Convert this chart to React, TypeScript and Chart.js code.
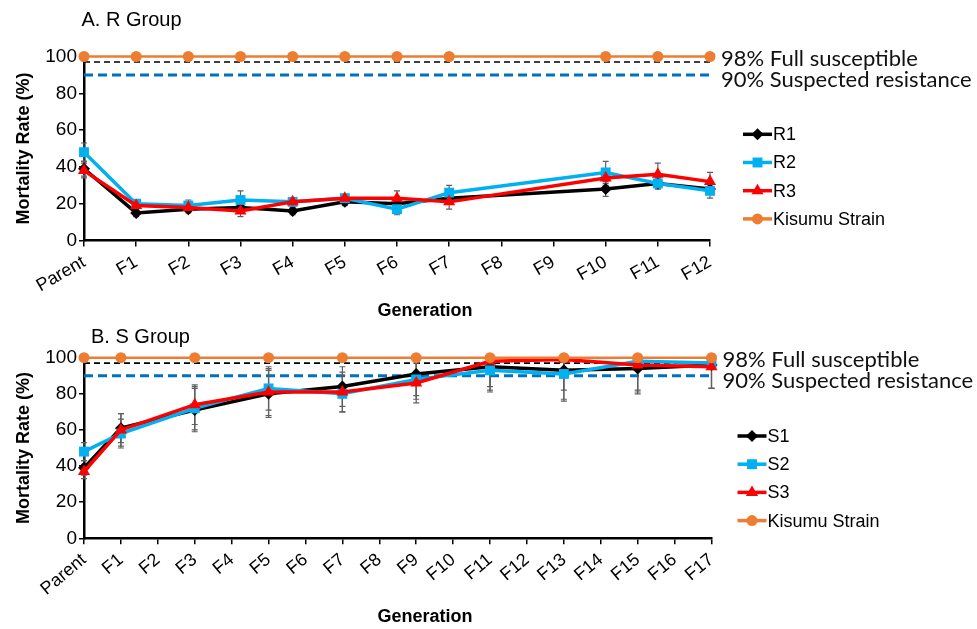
import React, { useEffect, useRef } from 'react';
import { Chart, registerables } from 'chart.js';
Chart.register(...registerables);

// ---------- data ----------
const rCategories = ['Parent', 'F1', 'F2', 'F3', 'F4', 'F5', 'F6', 'F7', 'F8', 'F9', 'F10', 'F11', 'F12'];
const r1Values = [39, 15, 17, 18, 16, 21, 20, 23, null, null, 28, 31, 28];
const r2Values = [48, 20, 19, 22, 21, 23, 17, 26, null, null, 37, 31, 27];
const r3Values = [38, 19, 18, 16, 21, 23, 23, 21, null, null, 34, 36, 32];
const kisumuR = [100, 100, 100, 100, 100, 100, 100, 100, null, null, 100, 100, 100];
const r1Errors = [4, 2, 2, 3, 2, 2, 3, 3, null, null, 4, 3, 3];
const r2Errors = [5, 2, 3, 5, 2, 2, 3, 4, null, null, 6, 3, 4];
const r3Errors = [4, 3, 2, 3, 2, 2, 4, 4, null, null, 4, 6, 5];

const sCategories = ['Parent', 'F1', 'F2', 'F3', 'F4', 'F5', 'F6', 'F7', 'F8', 'F9', 'F10', 'F11', 'F12', 'F13', 'F14', 'F15', 'F16', 'F17'];
const s1Values = [39, 61, null, 71, null, 80, null, 84, null, 91, null, 95, null, 93, null, 94, null, 96];
const s2Values = [48, 58, null, 72, null, 83, null, 80, null, 88, null, 93, null, 91, null, 98, null, 97];
const s3Values = [37, 60, null, 74, null, 81, null, 81, null, 86, null, 98, null, 99, null, 96, null, 95];
const kisumuS = [100, 100, null, 100, null, 100, null, 100, null, 100, null, 100, null, 100, null, 100, null, 100];
const s1Errors = [4, 8, null, 12, null, 13, null, 11, null, 12, null, 13, null, 16, null, 14, null, 13];
const s2Errors = [5, 8, null, 12, null, 12, null, 10, null, 11, null, 12, null, 15, null, 16, null, 14];
const s3Errors = [4, 9, null, 11, null, 13, null, 11, null, 11, null, 14, null, 17, null, 15, null, 12];

const yTicks = [0, 20, 40, 60, 80, 100];
const fullSusceptible = 97;
const suspectedResistance = 90;
const thresholdLabels = ['98% Full susceptible', '90% Suspected resistance'];
const yTitle = 'Mortality Rate (%)';
const xTitle = 'Generation';

// ---------- styles ----------
const FONT = "'Liberation Sans', Arial, sans-serif";
const LABEL_FONT = "Lato, 'Open Sans', sans-serif";
const BLACK = '#000000';
const LIGHTBLUE = '#00B0F0';
const RED = '#FF0000';
const ORANGE = '#ED7D31';
const DASHBLUE = '#0070C0';
const ERRGRAY = '#5f5f5f';

type Series = {
  label: string;
  data: (number | null)[];
  err?: (number | null)[];
  color: string;
  style: string;
  radius: number;
  width: number;
  order: number;
};

function drawMarker(ctx: CanvasRenderingContext2D, style: string, x: number, y: number, r: number, color: string) {
  ctx.save();
  ctx.fillStyle = color;
  ctx.beginPath();
  if (style === 'rectRot') {
    ctx.moveTo(x, y - r);
    ctx.lineTo(x + r, y);
    ctx.lineTo(x, y + r);
    ctx.lineTo(x - r, y);
    ctx.closePath();
  } else if (style === 'rect') {
    const s = r * Math.SQRT1_2;
    ctx.rect(x - s, y - s, 2 * s, 2 * s);
  } else if (style === 'triangle') {
    ctx.moveTo(x, y - r);
    ctx.lineTo(x + 0.866 * r, y + 0.5 * r);
    ctx.lineTo(x - 0.866 * r, y + 0.5 * r);
    ctx.closePath();
  } else {
    ctx.arc(x, y, r, 0, Math.PI * 2);
  }
  ctx.fill();
  ctx.restore();
}

type PanelProps = {
  top: number;
  height: number;
  categories: string[];
  series: Series[];
  title: string;
  titleX: number;
  titleBaseline: number;
  areaTop: number;
  areaBottom: number;
  areaRight: number;
  xTitleX: number;
  xTitleY: number;
  legendX: number;
  legendY: number;
  rotation: number;
};

function Panel(p: PanelProps) {
  const ref = useRef<HTMLCanvasElement>(null);
  useEffect(() => {
    const canvas = ref.current!;
    const W = 977;
    const datasets = p.series.map((s) => ({
      label: s.label,
      data: s.data,
      borderColor: s.color,
      backgroundColor: s.color,
      borderWidth: s.width,
      pointStyle: s.style as any,
      pointRadius: s.radius,
      pointBorderWidth: 0,
      pointBackgroundColor: s.color,
      pointBorderColor: s.color,
      spanGaps: true,
      clip: false as any,
      order: s.order,
      tension: 0,
    }));

    const overlay = {
      id: 'overlay',
      beforeDatasetsDraw(chart: any) {
        const ctx: CanvasRenderingContext2D = chart.ctx;
        const y = chart.scales.y;
        const area = chart.chartArea;
        // threshold lines
        ctx.save();
        const yFull = y.getPixelForValue(fullSusceptible);
        const yRes = y.getPixelForValue(suspectedResistance);
        ctx.strokeStyle = BLACK;
        ctx.lineWidth = 1.6;
        ctx.setLineDash([6, 4]);
        ctx.beginPath();
        ctx.moveTo(area.left, yFull);
        ctx.lineTo(area.right + 2, yFull);
        ctx.stroke();
        ctx.strokeStyle = DASHBLUE;
        ctx.lineWidth = 3;
        ctx.setLineDash([9, 5]);
        ctx.beginPath();
        ctx.moveTo(area.left, yRes);
        ctx.lineTo(area.right + 2, yRes);
        ctx.stroke();
        ctx.restore();

        // error bars
        ctx.save();
        ctx.beginPath();
        ctx.rect(0, area.top, chart.width, area.bottom - area.top + 1);
        ctx.clip();
        ctx.strokeStyle = ERRGRAY;
        ctx.lineWidth = 1.2;
        p.series.forEach((s, i) => {
          if (!s.err) return;
          const meta = chart.getDatasetMeta(i);
          s.data.forEach((v, j) => {
            const e = s.err![j];
            if (v == null || e == null) return;
            const x = meta.data[j].x;
            const y1 = y.getPixelForValue(v + e);
            const y2 = y.getPixelForValue(v - e);
            ctx.beginPath();
            ctx.moveTo(x, y1);
            ctx.lineTo(x, y2);
            ctx.moveTo(x - 3, y1);
            ctx.lineTo(x + 3, y1);
            ctx.moveTo(x - 3, y2);
            ctx.lineTo(x + 3, y2);
            ctx.stroke();
          });
        });
        ctx.restore();
      },
      afterDraw(chart: any) {
        const ctx: CanvasRenderingContext2D = chart.ctx;
        const y = chart.scales.y;
        const area = chart.chartArea;
        ctx.save();
        // threshold labels
        ctx.fillStyle = '#111';
        ctx.font = `22px ${LABEL_FONT}`;
        ctx.textAlign = 'left';
        ctx.textBaseline = 'alphabetic';
        ctx.fillText(thresholdLabels[0], area.right + 11, y.getPixelForValue(fullSusceptible) + 4);
        ctx.fillText(thresholdLabels[1], area.right + 11, y.getPixelForValue(suspectedResistance) + 12);
        // panel title
        ctx.font = `20px ${FONT}`;
        ctx.fillStyle = '#000';
        ctx.fillText(p.title, p.titleX, p.titleBaseline);
        // x title
        ctx.font = `bold 18px ${FONT}`;
        ctx.textAlign = 'center';
        ctx.textBaseline = 'middle';
        ctx.fillText(xTitle, p.xTitleX, p.xTitleY);
        // legend
        ctx.font = `18px ${FONT}`;
        ctx.textAlign = 'left';
        ctx.textBaseline = 'middle';
        p.series.forEach((s, i) => {
          const ly = p.legendY + i * 28.2;
          const lx = p.legendX;
          ctx.strokeStyle = s.color;
          ctx.lineWidth = Math.max(3.5, s.width);
          ctx.setLineDash([]);
          ctx.beginPath();
          ctx.moveTo(lx, ly);
          ctx.lineTo(lx + 29, ly);
          ctx.stroke();
          drawMarker(ctx, s.style, lx + 14.5, ly, s.radius, s.color);
          ctx.fillStyle = '#000';
          ctx.fillText(s.label, lx + 30, ly + 1);
        });
        ctx.restore();
      },
    };

    const chart = new Chart(canvas, {
      type: 'line',
      data: { labels: p.categories, datasets: datasets as any },
      options: {
        responsive: false,
        animation: false,
        events: [],
        layout: { padding: { left: 0, top: p.areaTop, right: W - p.areaRight, bottom: 0 } },
        plugins: { legend: { display: false }, tooltip: { enabled: false }, title: { display: false } },
        scales: {
          x: {
            type: 'category',
            offset: false,
            afterFit: (s: any) => {
              s.height = p.height - p.areaBottom;
            },
            grid: { display: true, drawOnChartArea: false, drawTicks: true, tickLength: 6, color: BLACK, lineWidth: 1.5 },
            border: { display: true, color: BLACK, width: 2.5 },
            ticks: {
              autoSkip: false,
              minRotation: p.rotation,
              maxRotation: p.rotation,
              padding: 5,
              color: '#000',
              font: { family: FONT, size: 18 },
            },
          },
          y: {
            min: yTicks[0],
            max: yTicks[yTicks.length - 1],
            afterFit: (s: any) => {
              s.width = 84;
            },
            afterBuildTicks: (s: any) => {
              s.ticks = yTicks.map((v) => ({ value: v }));
            },
            grid: { display: true, drawOnChartArea: false, drawTicks: true, tickLength: 5, color: BLACK, lineWidth: 1.5 },
            border: { display: true, color: BLACK, width: 2.5 },
            ticks: { padding: 2, color: '#000', font: { family: FONT, size: 19 } },
            title: {
              display: true,
              text: yTitle,
              color: '#000',
              font: { family: FONT, size: 18, weight: 'bold' },
              padding: { top: 13.5, bottom: 0 },
            },
          },
        },
      },
      plugins: [overlay],
    });
    return () => chart.destroy();
  }, []);
  return (
    <canvas
      ref={ref}
      width={977}
      height={p.height}
      style={{ position: 'absolute', left: 0, top: p.top, width: 977, height: p.height, display: 'block' }}
    />
  );
}

const rSeries: Series[] = [
  { label: 'R1', data: r1Values, err: r1Errors, color: BLACK, style: 'rectRot', radius: 6, width: 3.5, order: 3 },
  { label: 'R2', data: r2Values, err: r2Errors, color: LIGHTBLUE, style: 'rect', radius: 7, width: 3.5, order: 2 },
  { label: 'R3', data: r3Values, err: r3Errors, color: RED, style: 'triangle', radius: 7, width: 3.5, order: 1 },
  { label: 'Kisumu Strain', data: kisumuR, color: ORANGE, style: 'circle', radius: 5.5, width: 2.5, order: 0 },
];

const sSeries: Series[] = [
  { label: 'S1', data: s1Values, err: s1Errors, color: BLACK, style: 'rectRot', radius: 6, width: 3.5, order: 3 },
  { label: 'S2', data: s2Values, err: s2Errors, color: LIGHTBLUE, style: 'rect', radius: 7, width: 3.5, order: 2 },
  { label: 'S3', data: s3Values, err: s3Errors, color: RED, style: 'triangle', radius: 7, width: 3.5, order: 1 },
  { label: 'Kisumu Strain', data: kisumuS, color: ORANGE, style: 'circle', radius: 5.5, width: 2.5, order: 0 },
];

export default function App() {
  return (
    <div style={{ position: 'absolute', left: 0, top: 0, width: 977, height: 629, background: '#fff', overflow: 'hidden' }}>
      <Panel
        top={0}
        height={320}
        categories={rCategories}
        series={rSeries}
        title="A. R Group"
        titleX={81.5}
        titleBaseline={26}
        areaTop={56.5}
        areaBottom={240.5}
        areaRight={710}
        xTitleX={425}
        xTitleY={311.5}
        legendX={743}
        legendY={134.3}
        rotation={30}
      />
      <Panel
        top={320}
        height={309}
        categories={sCategories}
        series={sSeries}
        title="B. S Group"
        titleX={91}
        titleBaseline={22.7}
        areaTop={37.7}
        areaBottom={218.3}
        areaRight={711.5}
        xTitleX={425}
        xTitleY={297.3}
        legendX={737.5}
        legendY={116}
        rotation={40}
      />
    </div>
  );
}
